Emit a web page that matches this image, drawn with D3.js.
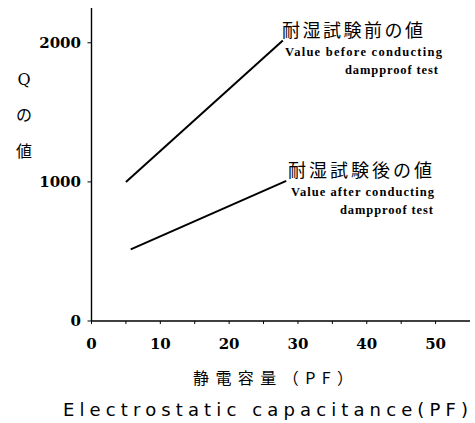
<!DOCTYPE html>
<html>
<head>
<meta charset="utf-8">
<script src="https://cdn.jsdelivr.net/npm/d3@7"></script>
<style>
  body { margin: 0; background: #fff; }
  svg { display: block; }
</style>
</head>
<body>
<div id="content"></div>
<script>
"use strict";

// values
var capBefore = [5, 27.8];      // PF
var qBefore = [1000, 2017];
var capAfter = [5.7, 28.3];
var qAfter = [515, 1007];

var xTicks = [0, 10, 20, 30, 40, 50];
var xMinorTicks = [5, 15, 25, 35, 45];
var yTicks = [0, 1000, 2000];

var labelBefore = ["耐湿試験前の値", "Value before conducting", "dampproof test"];
var labelAfter = ["耐湿試験後の値", "Value after conducting", "dampproof test"];

var width = 475;
var height = 423;

var svg = d3.select('#content').append('svg')
  .attr('width', width)
  .attr('height', height);

var x = d3.scaleLinear().domain([0, 55]).range([91.5, 470]);
var y = d3.scaleLinear().domain([0, 2250]).range([321, 8]);

// axes lines
svg.append('line')
  .attr('x1', x(0)).attr('x2', x(0))
  .attr('y1', y(2250)).attr('y2', y(0))
  .attr('stroke', '#000').attr('stroke-width', 1.4);
svg.append('line')
  .attr('x1', x(0)).attr('x2', x(55))
  .attr('y1', y(0)).attr('y2', y(0))
  .attr('stroke', '#000').attr('stroke-width', 1.4);

// y ticks
var yg = svg.append('g');
yg.selectAll('line').data(yTicks).enter().append('line')
  .attr('x1', x(0) - 4).attr('x2', x(0))
  .attr('y1', function(d) { return y(d); })
  .attr('y2', function(d) { return y(d); })
  .attr('stroke', '#000');
yg.selectAll('text').data(yTicks).enter().append('text')
  .attr('x', 81)
  .attr('y', function(d) { return y(d); })
  .attr('dy', '0.36em')
  .attr('text-anchor', 'end')
  .style('font-family', 'DejaVu Serif')
  .style('font-weight', 'bold')
  .style('font-size', '15px')
  .text(function(d) { return d; });

// x ticks
var xg = svg.append('g');
xg.selectAll('line').data(xTicks.concat(xMinorTicks)).enter().append('line')
  .attr('x1', function(d) { return x(d); })
  .attr('x2', function(d) { return x(d); })
  .attr('y1', y(0)).attr('y2', y(0) + 3)
  .attr('stroke', '#000');
xg.selectAll('text').data(xTicks).enter().append('text')
  .attr('x', function(d) { return x(d); })
  .attr('y', 349)
  .attr('text-anchor', 'middle')
  .style('font-family', 'DejaVu Serif')
  .style('font-weight', 'bold')
  .style('font-size', '15px')
  .text(function(d) { return d; });

// lines
var line = d3.line()
  .x(function(d) { return x(d[0]); })
  .y(function(d) { return y(d[1]); });

svg.append('path')
  .datum(d3.zip(capBefore, qBefore))
  .attr('d', line)
  .attr('fill', 'none').attr('stroke', '#000').attr('stroke-width', 2);
svg.append('path')
  .datum(d3.zip(capAfter, qAfter))
  .attr('d', line)
  .attr('fill', 'none').attr('stroke', '#000').attr('stroke-width', 2);

// annotations
function annotate(lbl, x0, y0, l1, l2, x2, l3) {
  svg.append('text')
    .attr('x', x0).attr('y', y0)
    .attr('textLength', l1).attr('lengthAdjust', 'spacing')
    .style('font-family', 'Noto Sans CJK JP')
    .style('font-size', '18px')
    .text(lbl[0]);
  svg.append('text')
    .attr('x', x0 + 3).attr('y', y0 + 19)
    .attr('textLength', l2).attr('lengthAdjust', 'spacing')
    .style('font-family', 'Liberation Serif')
    .style('font-weight', 'bold')
    .style('font-size', '12.5px')
    .text(lbl[1]);
  svg.append('text')
    .attr('x', x2).attr('y', y0 + 37)
    .attr('textLength', l3).attr('lengthAdjust', 'spacing')
    .style('font-family', 'Liberation Serif')
    .style('font-weight', 'bold')
    .style('font-size', '12.5px')
    .text(lbl[2]);
}
annotate(labelBefore, 282, 37, 141, 157, 345, 93);
annotate(labelAfter, 288, 177, 144, 143, 340, 93);

// axis titles
var yTitle = ['Q', 'の', '値'];
svg.selectAll('.ytitle').data(yTitle).enter().append('text')
  .attr('class', 'ytitle')
  .attr('x', 24)
  .attr('y', function(d, i) { return 85 + i * 36; })
  .attr('text-anchor', 'middle')
  .style('font-family', function(d, i) { return i === 0 ? 'DejaVu Serif' : 'Noto Sans CJK JP'; })
  .style('font-size', '16px')
  .text(function(d) { return d; });

svg.append('text')
  .attr('x', 193).attr('y', 384)
  .attr('textLength', 160).attr('lengthAdjust', 'spacing')
  .style('font-family', 'Noto Sans CJK JP')
  .style('font-size', '16px')
  .text('静電容量（PF）');

svg.append('text')
  .attr('x', 63).attr('y', 416)
  .attr('textLength', 405).attr('lengthAdjust', 'spacing')
  .style('font-family', 'DejaVu Sans')
  .style('font-size', '18px')
  .text('Electrostatic capacitance(PF)');
</script>
</body>
</html>
